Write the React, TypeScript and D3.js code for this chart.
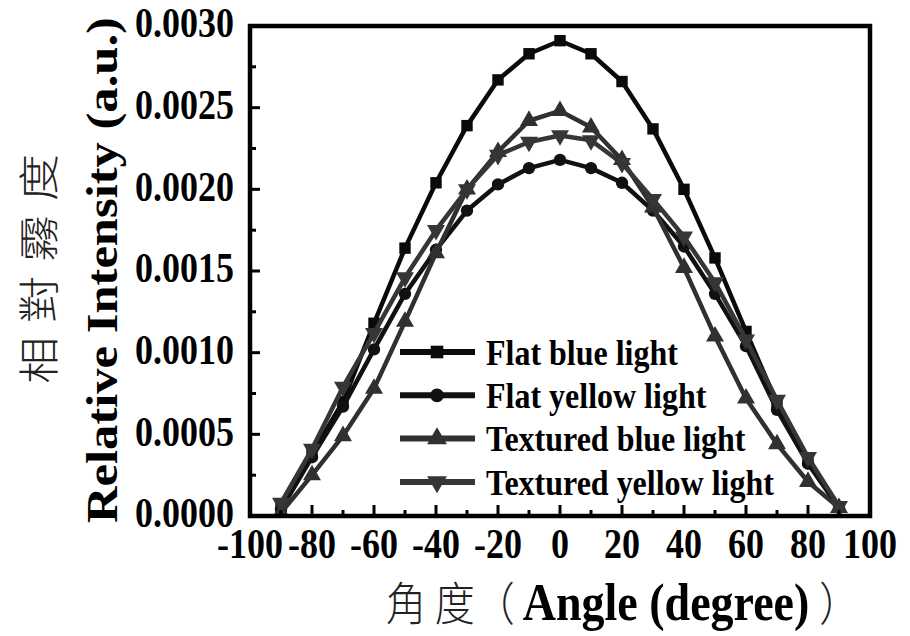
import React from "react";
import * as d3 from "d3";

// angle of the measurement (degree)
const angles = [-90, -80, -70, -60, -50, -40, -30, -20, -10, 0, 10, 20, 30, 40, 50, 60, 70, 80, 90];

// relative intensity
const flatBlue = [0.000057, 0.00038, 0.0007, 0.00118, 0.00164, 0.00204, 0.00239, 0.00267, 0.00283, 0.00291, 0.00283, 0.00266, 0.00237, 0.002, 0.00158, 0.00113, 0.00069, 0.00034, 0.000057];
const flatYellow = [0.00004, 0.00036, 0.00067, 0.00102, 0.00136, 0.00163, 0.00187, 0.00203, 0.00213, 0.00218, 0.00213, 0.00204, 0.00187, 0.00165, 0.00136, 0.00104, 0.00065, 0.00032, 0.00005];
const texturedBlue = [0.00002, 0.00025, 0.00049, 0.00078, 0.00119, 0.00161, 0.002, 0.00223, 0.00242, 0.00248, 0.00238, 0.00218, 0.00189, 0.00152, 0.0011, 0.00072, 0.00044, 0.00021, 0.00005];
const texturedYellow = [0.00008, 0.00041, 0.00079, 0.00112, 0.00146, 0.00175, 0.002, 0.00221, 0.00229, 0.00233, 0.0023, 0.00216, 0.00194, 0.00171, 0.00143, 0.00108, 0.00071, 0.00036, 0.00006];

const seriesNames = ["Flat blue light", "Flat yellow light", "Textured blue light", "Textured yellow light"];
const xTicks = [-100, -80, -60, -40, -20, 0, 20, 40, 60, 80, 100];
const yTicks = [0, 0.0005, 0.001, 0.0015, 0.002, 0.0025, 0.003];

const serif = "'Liberation Serif', 'Times New Roman', serif";
const cjk = "'Noto Sans CJK TC', 'Noto Sans CJK SC', sans-serif";
const STRETCH = 1.15; // the scanned figure is a bit taller than wide

export default function App() {
  const width = 910;
  const height = 636;
  const left = 250, right = 870, top = 26, bottom = 516;

  const x = d3.scaleLinear().domain([-100, 100]).range([left, right]);
  const y = d3.scaleLinear().domain([0, 0.003]).range([bottom, top]);

  const series = [
    { name: seriesNames[0], values: flatBlue, symbol: d3.symbolSquare, size: 130, rot: 0, color: "#0a0a0a" },
    { name: seriesNames[1], values: flatYellow, symbol: d3.symbolCircle, size: 120, rot: 0, color: "#111" },
    { name: seriesNames[2], values: texturedBlue, symbol: d3.symbolTriangle, size: 140, rot: 0, color: "#303030" },
    { name: seriesNames[3], values: texturedYellow, symbol: d3.symbolTriangle, size: 140, rot: 180, color: "#363636" },
  ];

  const line = d3.line<number>()
    .x((d, i) => x(angles[i]))
    .y(d => y(d));

  // minor ticks sit halfway between the major ones
  const xMinor = d3.range(-90, 100, 20);
  const yMinor = d3.range(0.00025, 0.003, 0.0005);

  return (
    <svg width={width} height={height} style={{ position: "absolute", left: 0, top: 0, background: "#fff" }}>
      {/* curves */}
      {series.map(s => (
        <g key={s.name}>
          <path d={line(s.values) || ""} fill="none" stroke={s.color} strokeWidth={4.5} strokeLinejoin="round" />
          {s.values.map((v, i) => (
            <path key={i}
              d={d3.symbol().type(s.symbol).size(s.size)() || ""}
              transform={`translate(${x(angles[i])},${y(v)}) rotate(${s.rot})`}
              fill={s.color} />
          ))}
        </g>
      ))}

      {/* frame */}
      <rect x={left} y={top} width={right - left} height={bottom - top} fill="none" stroke="#000" strokeWidth={4.5} />

      {/* ticks, pointing inward */}
      {xTicks.slice(1, -1).map(t => (
        <line key={"xt" + t} x1={x(t)} x2={x(t)} y1={bottom} y2={bottom - 11} stroke="#000" strokeWidth={3} />
      ))}
      {xMinor.map(t => (
        <line key={"xm" + t} x1={x(t)} x2={x(t)} y1={bottom} y2={bottom - 6} stroke="#000" strokeWidth={3} />
      ))}
      {yTicks.slice(1, -1).map(t => (
        <line key={"yt" + t} x1={left} x2={left + 10} y1={y(t)} y2={y(t)} stroke="#000" strokeWidth={3} />
      ))}
      {yMinor.map(t => (
        <line key={"ym" + t} x1={left} x2={left + 6} y1={y(t)} y2={y(t)} stroke="#000" strokeWidth={3} />
      ))}

      {/* tick labels */}
      {xTicks.map(t => (
        <text key={"xl" + t} transform={`translate(${x(t)},558) scale(1,${STRETCH})`}
          textAnchor="middle" fontFamily={serif} fontWeight="bold" fontSize={36}>{t}</text>
      ))}
      {yTicks.map(t => (
        <text key={"yl" + t} transform={`translate(234,${y(t) - 3}) scale(1,${STRETCH})`}
          textAnchor="end" dominantBaseline="central" fontFamily={serif} fontWeight="bold" fontSize={36}>
          {d3.format(".4f")(t)}
        </text>
      ))}

      {/* axis titles */}
      <text transform={`translate(117,270) scale(1,${STRETCH}) rotate(-90)`} textAnchor="middle"
        fontFamily={serif} fontWeight="bold" fontSize={44}>Relative Intensity (a.u.)</text>
      <text transform={`translate(54,262) scale(1,${STRETCH}) rotate(-90)`} textAnchor="middle"
        fontFamily={cjk} fontWeight={300} fontSize={41} letterSpacing={12} fill="#222">相對霧度</text>
      <text transform={`translate(386,620) scale(1,${STRETCH})`} textAnchor="start">
        <tspan fontFamily={cjk} fontWeight={300} fontSize={40} fill="#222">角 度（</tspan>
        <tspan dx={8} fontFamily={serif} fontWeight="bold" fontSize={46}>Angle (degree)</tspan>
        <tspan dx={10} fontFamily={cjk} fontWeight={300} fontSize={40} fill="#222">）</tspan>
      </text>

      {/* legend */}
      {series.map((s, i) => {
        const ly = 352 + i * 43.3;
        return (
          <g key={"lg" + s.name}>
            <line x1={400} x2={475} y1={ly} y2={ly} stroke={s.color} strokeWidth={6} />
            <path d={d3.symbol().type(s.symbol).size(s.size + 30)() || ""}
              transform={`translate(437,${ly}) rotate(${s.rot})`} fill={s.color} />
            <text transform={`translate(486,${ly}) scale(1,${STRETCH})`} dominantBaseline="central"
              fontFamily={serif} fontWeight="bold" fontSize={32}>{s.name}</text>
          </g>
        );
      })}
    </svg>
  );
}
